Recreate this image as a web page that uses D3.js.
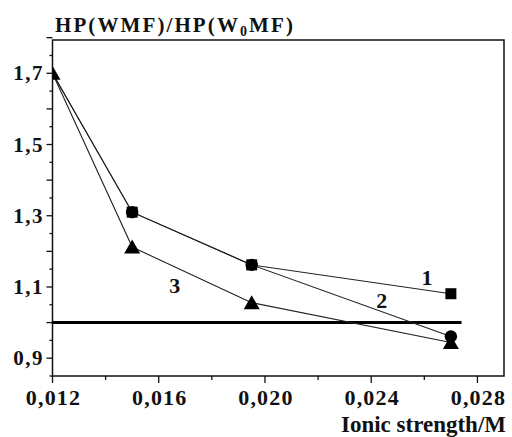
<!DOCTYPE html>
<html><head><meta charset="utf-8">
<script src="https://cdn.jsdelivr.net/npm/d3@7"></script>
<style>
body{margin:0;background:#fff;}
</style></head>
<body><svg id="c" width="512" height="437"></svg>
<script>
const xValues = [0.012, 0.015, 0.0195, 0.027];
const series1 = [1.70, 1.31, 1.162, 1.081];
const series2 = [1.70, 1.31, 1.162, 0.961];
const series3 = [1.70, 1.212, 1.056, 0.944];
const refLine = {x0: 0.012, x1: 0.0274, y: 1.0};
const xTicks = [0.012, 0.016, 0.020, 0.024, 0.028];
const xTickLabels = ["0,012", "0,016", "0,020", "0,024", "0,028"];
const yTicks = [0.9, 1.1, 1.3, 1.5, 1.7];
const yTickLabels = ["0,9", "1,1", "1,3", "1,5", "1,7"];
const curveLabels = [{t:"1", x:0.0261, y:1.106},{t:"2", x:0.0244, y:1.041},{t:"3", x:0.0166, y:1.083}];

const FONT="Liberation Serif";
const L=52.5, R=504, T=40, B=376;
const svg=d3.select("#c");
const x=d3.scaleLinear().domain([0.012,0.029]).range([L,R]);
const y=d3.scaleLinear().domain([0.85,1.7+(73.3-40)/356.3]).range([B,T]);

function txt(sel){ return sel.attr("font-family",FONT).attr("font-weight","bold").attr("fill","#111"); }

svg.append("defs").append("clipPath").attr("id","clip")
  .append("rect").attr("x",L).attr("y",T).attr("width",R-L).attr("height",B-T);

// x ticks
const xMinor=d3.range(0.012,0.0291,0.002);
svg.append("g").selectAll("line").data(xMinor).join("line")
  .attr("x1",d=>x(d)).attr("x2",d=>x(d)).attr("y1",B)
  .attr("y2",(d,i)=>B+(i%2===0?7:4)).attr("stroke","#111").attr("stroke-width",1.3);
txt(svg.append("g").selectAll("text").data(xTicks).join("text"))
  .attr("x",d=>x(d)+1).attr("y",405).attr("text-anchor","middle").attr("font-size",22)
  .attr("letter-spacing",1.2)
  .text((d,i)=>xTickLabels[i]);

// y ticks
const yMinor=d3.range(0.85,1.801,0.05);
svg.append("g").selectAll("line").data(yMinor).join("line")
  .attr("y1",d=>y(d)).attr("y2",d=>y(d)).attr("x1",L)
  .attr("x2",d=>L-(Math.abs(Math.round(d*10)-d*10)<0.01?6:3)).attr("stroke","#111").attr("stroke-width",1.3);
txt(svg.append("g").selectAll("text").data(yTicks).join("text"))
  .attr("x",44).attr("y",d=>y(d)+7).attr("text-anchor","end").attr("font-size",21)
  .attr("letter-spacing",1.5)
  .text((d,i)=>yTickLabels[i]);

// frame
svg.append("rect").attr("x",L).attr("y",T).attr("width",R-L).attr("height",B-T)
  .attr("fill","none").attr("stroke","#111").attr("stroke-width",1.5);

// reference line
svg.append("line").attr("x1",x(refLine.x0)).attr("x2",x(refLine.x1))
  .attr("y1",y(refLine.y)).attr("y2",y(refLine.y)).attr("stroke","#000").attr("stroke-width",3);

const g=svg.append("g").attr("clip-path","url(#clip)");
const line=d3.line().x((d,i)=>x(xValues[i])).y(d=>y(d));
[series1,series2,series3].forEach(s=>{
  g.append("path").attr("d",line(s)).attr("fill","none").attr("stroke","#222").attr("stroke-width",1.1);
});

// markers (first shared point shows only the triangle)
g.append("g").selectAll("circle").data(series2).join("circle")
  .attr("cx",(d,i)=>x(xValues[i])).attr("cy",d=>y(d)).attr("r",6.2).attr("fill","#000")
  .attr("display",(d,i)=>i===0?"none":null);
g.append("g").selectAll("rect").data(series1).join("rect")
  .attr("x",(d,i)=>x(xValues[i])-5.5).attr("y",d=>y(d)-5.5).attr("width",11).attr("height",11)
  .attr("fill","#000").attr("display",(d,i)=>i===0?"none":null);
g.append("g").selectAll("path").data(series3).join("path")
  .attr("transform",(d,i)=>`translate(${x(xValues[i])},${y(d)})`)
  .attr("d","M0,-7.5L8,6.5L-8,6.5Z").attr("fill","#000");

// curve labels
txt(svg.append("g").selectAll("text").data(curveLabels).join("text"))
  .attr("x",d=>x(d.x)).attr("y",d=>y(d.y)).attr("text-anchor","middle").attr("font-size",22).text(d=>d.t);

// titles
const t=txt(svg.append("text")).attr("x",55).attr("y",32).attr("font-size",21).attr("letter-spacing",2.1);
t.append("tspan").text("HP(WMF)/HP(W");
t.append("tspan").attr("font-size",14).attr("dy",4).text("0");
t.append("tspan").attr("dy",-4).text("MF)");
txt(svg.append("text")).attr("x",506).attr("y",432).attr("text-anchor","end").attr("font-size",23).text("Ionic strength/M");
</script></body></html>
